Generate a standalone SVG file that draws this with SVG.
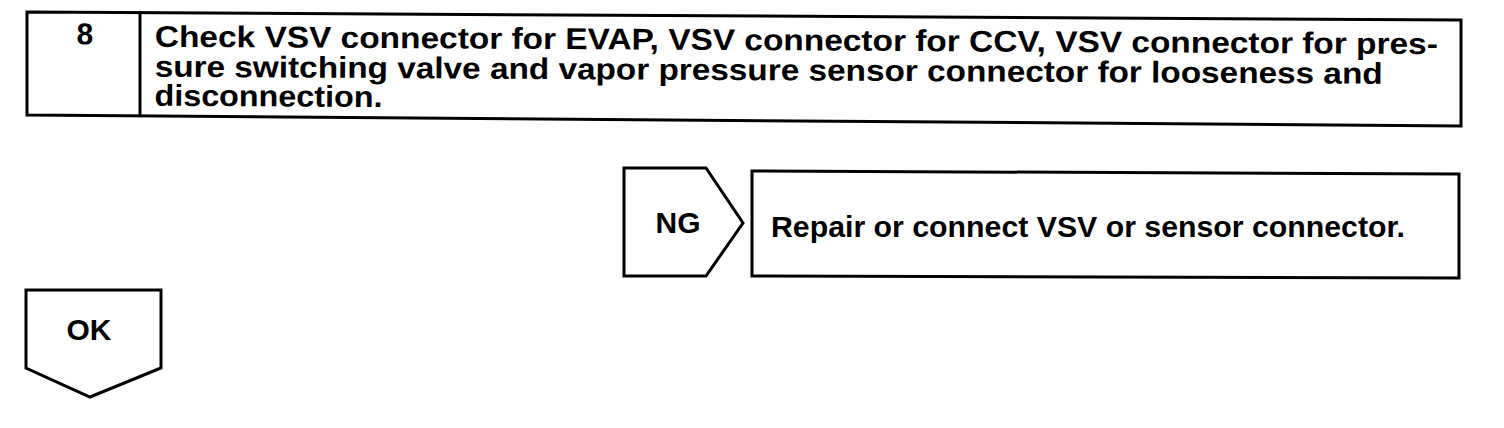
<svg xmlns="http://www.w3.org/2000/svg" width="1504" height="428" viewBox="0 0 1504 428">
<style>
.box{fill:#fff;stroke:#000;stroke-width:3;stroke-linejoin:miter}
.t{font-family:"Liberation Sans",Arial,Helvetica,sans-serif;font-weight:bold;font-size:30px;fill:#000}
</style>
<rect width="1504" height="428" fill="#fff"/>
<g id="step8">
<polygon class="box" points="27,12 1461,20 1461,126 27,115"/>
<line x1="140" y1="12.6" x2="140" y2="115.6" stroke="#000" stroke-width="3"/>
<g transform="rotate(0.33 27 12)">
<text class="t" x="85" y="44" text-anchor="middle">8</text>
<text class="t" x="155" y="46" textLength="1283" lengthAdjust="spacingAndGlyphs">Check VSV connector for EVAP, VSV connector for CCV, VSV connector for pres-</text>
<text class="t" x="155" y="76" textLength="1228" lengthAdjust="spacingAndGlyphs">sure switching valve and vapor pressure sensor connector for looseness and</text>
<text class="t" x="155" y="105" textLength="228" lengthAdjust="spacingAndGlyphs">disconnection.</text>
</g>
</g>
<g id="ng">
<polygon class="box" points="624,168 706,168 743,223 706,276 624,276"/>
<text class="t" x="678" y="233" text-anchor="middle">NG</text>
</g>
<g id="repair">
<polygon class="box" points="752,171 1459,174 1459,278 752,276"/>
<text class="t" x="771" y="237" textLength="634" lengthAdjust="spacingAndGlyphs">Repair or connect VSV or sensor connector.</text>
</g>
<g id="ok">
<polygon class="box" points="26,290 161,290 161,368 90,397 26,368"/>
<text class="t" x="89" y="340" text-anchor="middle">OK</text>
</g>
<g id="connectors"></g>
</svg>
